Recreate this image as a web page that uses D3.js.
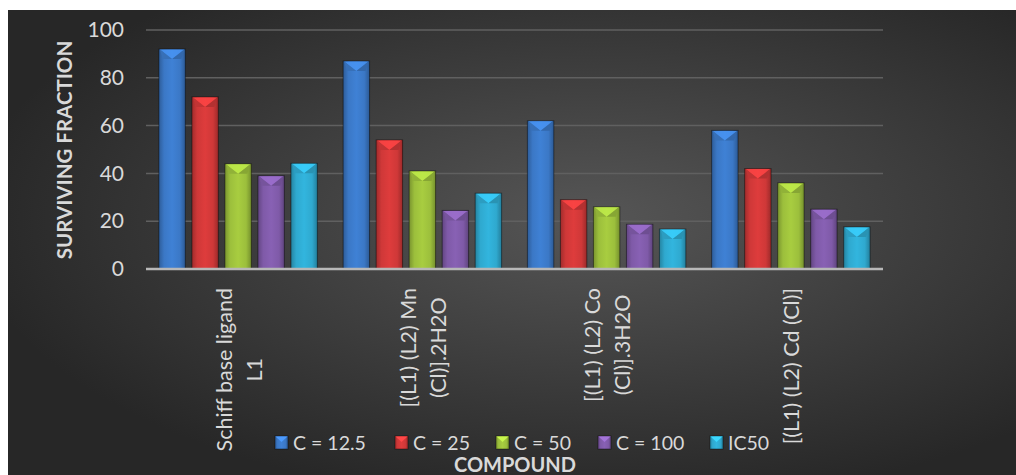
<!DOCTYPE html>
<html>
<head>
<meta charset="utf-8">
<script src="https://cdn.jsdelivr.net/npm/d3@7"></script>
<style>
body { margin: 0; background: #fff; }
svg { display: block; }
text { font-family: Lato, "Open Sans", sans-serif; fill: #d9d9d9; }
</style>
</head>
<body>
<svg id="chart"></svg>
<script>
var categories = ["Schiff base ligand\nL1", "[(L1) (L2) Mn\n(Cl)].2H2O", "[(L1) (L2) Co\n(Cl)].3H2O", "[(L1) (L2) Cd (Cl)]"];
var seriesNames = ["C = 12.5", "C = 25", "C = 50", "C = 100", "IC50"];
var c125 = [92, 87, 62, 58];
var c25 = [72, 54, 29, 42];
var c50 = [44, 41, 26, 36];
var c100 = [39, 24.5, 18.7, 25];
var ic50 = [44.2, 31.7, 16.7, 17.6];
var yTicks = [0, 20, 40, 60, 80, 100];
var colors = ["#3b78c6", "#cf3838", "#9cbf3c", "#7f5aa8", "#2fa9cf"];

var seriesValues = [c125, c25, c50, c100, ic50];

var screen = {width: 1016, height: 475};
var plot = {left: 146, right: 883, top: 30, bottom: 269};

var svg = d3.select("#chart")
    .attr("width", screen.width)
    .attr("height", screen.height);

var defs = svg.append("defs");

// background glow
var bg = defs.append("radialGradient")
    .attr("id", "bgGrad")
    .attr("cx", "58%").attr("cy", "45%").attr("r", "62%");
bg.append("stop").attr("offset", "0%").attr("stop-color", "#565656");
bg.append("stop").attr("offset", "100%").attr("stop-color", "#272727");

// per-series bar gradients (dark edges, light middle)
colors.forEach(function(c, i) {
    var g = defs.append("linearGradient")
        .attr("id", "barGrad" + i)
        .attr("x1", "0").attr("x2", "1").attr("y1", "0").attr("y2", "0");
    var base = d3.color(c);
    g.append("stop").attr("offset", "0%").attr("stop-color", base.darker(0.7));
    g.append("stop").attr("offset", "20%").attr("stop-color", base);
    g.append("stop").attr("offset", "50%").attr("stop-color", base.brighter(0.2));
    g.append("stop").attr("offset", "80%").attr("stop-color", base);
    g.append("stop").attr("offset", "100%").attr("stop-color", base.darker(0.8));
});

svg.append("rect")
    .attr("x", 8).attr("y", 10)
    .attr("width", screen.width - 8).attr("height", screen.height - 10)
    .attr("fill", "url(#bgGrad)");

var x0 = d3.scaleBand()
    .domain(categories)
    .range([plot.left, plot.right])
    .paddingInner(0.14)
    .paddingOuter(0.07);

var x1 = d3.scaleBand()
    .domain(seriesNames)
    .range([0, x0.bandwidth()])
    .paddingInner(0.2);

var yScale = d3.scaleLinear()
    .domain([0, 100])
    .range([plot.bottom, plot.top]);

// gridlines
svg.append("g")
    .selectAll("line")
    .data(yTicks.filter(function(t) { return t > 0; }))
    .enter()
    .append("line")
    .attr("x1", plot.left).attr("x2", plot.right)
    .attr("y1", function(t) { return yScale(t); })
    .attr("y2", function(t) { return yScale(t); })
    .attr("stroke", "#606060")
    .attr("stroke-width", 1.5);

// y axis labels
var yAxis = d3.axisLeft(yScale).tickValues(yTicks).tickSize(0).tickPadding(0);
var yG = svg.append("g")
    .attr("transform", "translate(124,0)")
    .call(yAxis);
yG.select(".domain").remove();
yG.selectAll("text")
    .attr("fill", "#d9d9d9")
    .style("font-size", "21px")
    .style("font-family", "Lato, 'Open Sans', sans-serif");

// bars
var rows = [];
categories.forEach(function(cat, ci) {
    seriesNames.forEach(function(s, si) {
        rows.push({cat: cat, series: s, si: si, value: seriesValues[si][ci]});
    });
});

var bars = svg.append("g")
    .selectAll("g")
    .data(rows)
    .enter()
    .append("g");

bars.append("rect")
    .attr("x", function(d) { return x0(d.cat) + x1(d.series); })
    .attr("y", function(d) { return yScale(d.value); })
    .attr("width", x1.bandwidth())
    .attr("height", function(d) { return yScale(0) - yScale(d.value); })
    .attr("fill", function(d) { return "url(#barGrad" + d.si + ")"; })
    .attr("stroke", "rgba(0,0,0,0.45)")
    .attr("stroke-width", 1);

// bevel top
bars.append("path")
    .attr("d", function(d) {
        var x = x0(d.cat) + x1(d.series), w = x1.bandwidth(), t = yScale(d.value);
        return "M" + (x + 1) + "," + (t + 0.5) + "L" + (x + w - 1) + "," + (t + 0.5) +
            "L" + (x + w / 2) + "," + (t + 10) + "Z";
    })
    .attr("fill", function(d) { return d3.color(colors[d.si]).brighter(0.6); })
    .attr("opacity", 0.8);
bars.append("path")
    .attr("d", function(d) {
        var x = x0(d.cat) + x1(d.series), w = x1.bandwidth(), t = yScale(d.value);
        return "M" + (x + 1) + "," + (t + 0.5) + "L" + (x + w / 2) + "," + (t + 10) +
            "L" + (x + 4) + "," + (t + 10) + "Z";
    })
    .attr("fill", function(d) { return d3.color(colors[d.si]).darker(0.2); });
bars.append("path")
    .attr("d", function(d) {
        var x = x0(d.cat) + x1(d.series), w = x1.bandwidth(), t = yScale(d.value);
        return "M" + (x + w - 1) + "," + (t + 0.5) + "L" + (x + w / 2) + "," + (t + 10) +
            "L" + (x + w - 4) + "," + (t + 10) + "Z";
    })
    .attr("fill", function(d) { return d3.color(colors[d.si]).darker(0.4); });

// baseline
svg.append("line")
    .attr("x1", plot.left).attr("x2", plot.right)
    .attr("y1", yScale(0)).attr("y2", yScale(0))
    .attr("stroke", "#b8b8b8")
    .attr("stroke-width", 2.5);

// rotated category labels
var lineH = 30;
var labels = svg.append("g")
    .selectAll("g")
    .data(categories)
    .enter()
    .append("g")
    .attr("transform", function(c) {
        return "translate(" + (x0(c) + x0.bandwidth() / 2 + 1) + ",288) rotate(-90)";
    });

labels.each(function(c) {
    var g = d3.select(this);
    var lines = c.split("\n");
    var texts = g.selectAll("text")
        .data(lines)
        .enter()
        .append("text")
        .attr("text-anchor", "middle")
        .attr("y", function(l, i) { return (i - (lines.length - 1) / 2) * lineH; })
        .attr("dy", "0.35em")
        .style("font-size", "21.5px")
        .text(function(l) { return l; });
    var maxLen = 0;
    texts.each(function() { maxLen = Math.max(maxLen, this.getComputedTextLength()); });
    texts.attr("x", -maxLen / 2);
});

// y title
svg.append("text")
    .attr("transform", "translate(72,150) rotate(-90)")
    .attr("text-anchor", "middle")
    .style("font-size", "20.5px")
    .style("font-weight", "bold")
    .text("SURVIVING FRACTION");

// legend
var legendX = [275, 395, 496, 598, 710];
var legend = svg.append("g")
    .selectAll("g")
    .data(seriesNames)
    .enter()
    .append("g")
    .attr("transform", function(s, i) { return "translate(" + legendX[i] + ",436)"; });

legend.append("rect")
    .attr("width", 13).attr("height", 13)
    .attr("fill", function(s, i) { return "url(#barGrad" + i + ")"; })
    .attr("stroke", "rgba(0,0,0,0.4)");
legend.append("path")
    .attr("d", "M0.5,0.5L12.5,0.5L6.5,6Z")
    .attr("fill", function(s, i) { return d3.color(colors[i]).brighter(0.7); });
legend.append("text")
    .attr("x", 18)
    .attr("y", 14)
    .style("font-size", "19.5px")
    .text(function(s) { return s; });

// x title
svg.append("text")
    .attr("x", 515)
    .attr("y", 472)
    .attr("text-anchor", "middle")
    .style("font-size", "20px")
    .style("font-weight", "bold")
    .text("COMPOUND");
</script>
</body>
</html>
